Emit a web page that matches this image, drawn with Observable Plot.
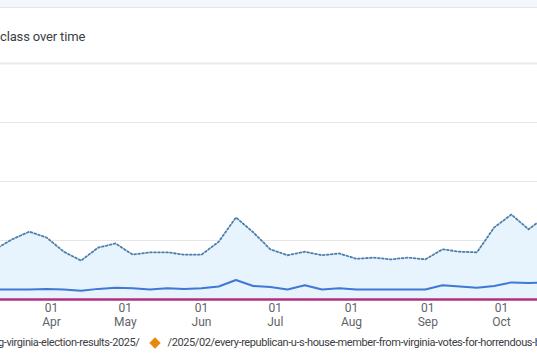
<!DOCTYPE html>
<html>
<head>
<meta charset="utf-8">
<script src="https://cdn.jsdelivr.net/npm/d3@7"></script>
<script src="https://cdn.jsdelivr.net/npm/@observablehq/plot@0.6"></script>
<style>
  html, body { margin: 0; padding: 0; background: #fff; width: 537px; height: 360px; overflow: hidden; font-family: Roboto, "Noto Sans", sans-serif; }
  #strip { position: absolute; left: 0; top: 0; width: 537px; height: 7px; background: #f3f7fb; border-bottom: 1px solid #e1e5ea; }
  #title { position: absolute; left: 0; top: 29px; font-size: 13px; letter-spacing: -0.15px; color: #3c4043; white-space: nowrap; }
  #chart { position: absolute; left: 0; top: 50px; width: 537px; overflow: hidden; }
  #legend { position: absolute; left: -2px; top: 336px; font-size: 11px; letter-spacing: -0.4px; color: #3c4043; white-space: nowrap; display: flex; align-items: center; }
  #legend .dia { display: inline-block; width: 8px; height: 8px; background: #e8890c; transform: rotate(45deg); margin: 0 9px 0 11px; }
</style>
</head>
<body>
<div id="strip"></div>
<div id="title">class over time</div>
<div id="chart"></div>
<div id="legend"><span id="lg1"></span><span class="dia"></span><span id="lg2"></span></div>
<script>
// ---- data ----
const weeks = ["2025-03-09","2025-03-16","2025-03-23","2025-03-30","2025-04-06","2025-04-13","2025-04-20","2025-04-27",
  "2025-05-04","2025-05-11","2025-05-18","2025-05-25","2025-06-01","2025-06-08","2025-06-15","2025-06-22","2025-06-29",
  "2025-07-06","2025-07-13","2025-07-20","2025-07-27","2025-08-03","2025-08-10","2025-08-17","2025-08-24","2025-08-31",
  "2025-09-07","2025-09-14","2025-09-21","2025-09-28","2025-10-05","2025-10-12","2025-10-19"];
const totalSeries = [8.5,10.2,11.5,10.5,8.1,6.6,8.8,9.5,7.6,8.0,8.0,7.6,7.6,9.8,13.9,11.4,8.5,7.5,8.1,7.5,7.8,6.9,7.1,6.8,7.1,6.8,8.5,8.1,8.0,12.2,14.4,11.9,14.1];
const pageA = [1.7,1.7,1.7,1.8,1.7,1.5,1.8,2.0,1.9,1.7,1.9,1.8,1.9,2.2,3.3,2.3,2.1,1.7,2.4,1.7,1.9,1.7,1.7,1.7,1.7,1.7,2.4,2.2,2.0,2.3,2.9,2.8,2.9];
const pageB = [0,0,0,0,0,0,0,0,0,0,0,0,0,0,0,0,0,0,0,0,0,0,0,0,0,0,0,0,0,0,0,0,0];
const gridValues = [10, 20, 30, 40];
const tickDates = ["2025-04-01","2025-05-01","2025-06-01","2025-07-01","2025-08-01","2025-09-01","2025-10-01"];
const tickDay = ["01","01","01","01","01","01","01"];
const tickMonth = ["Apr","May","Jun","Jul","Aug","Sep","Oct"];
const legendLabels = ["g-virginia-election-results-2025/", "/2025/02/every-republican-u-s-house-member-from-virginia-votes-for-horrendous-budget-bill/"];

// ---- build ----
const parse = s => new Date(s + "T00:00:00Z");
const rows = weeks.map((w, i) => ({date: parse(w), total: totalSeries[i], a: pageA[i], b: pageB[i]}));
const ticks = tickDates.map((t, i) => ({date: parse(t), day: tickDay[i], month: tickMonth[i]}));

const chart = Plot.plot({
  width: 537,
  height: 285,
  marginLeft: 0,
  marginRight: 0,
  marginTop: 13,
  marginBottom: 36,
  style: {fontFamily: "Roboto, sans-serif", background: "transparent", overflow: "hidden"},
  x: {type: "utc", domain: [new Date(Date.UTC(2025,2,11,6)), new Date(Date.UTC(2025,9,15,15))], axis: null},
  y: {domain: [0, 40], axis: null},
  marks: [
    Plot.ruleY(gridValues.slice(0, 3), {stroke: "#e6e6e6", strokeWidth: 1}),
    Plot.ruleY(gridValues.slice(3), {stroke: "#ebebeb", strokeWidth: 2}),
    Plot.areaY(rows, {x: "date", y: "total", fill: "#e7f3fd"}),
    Plot.lineY(rows, {x: "date", y: "total", stroke: "#4e7fab", strokeWidth: 1.8, strokeDasharray: "1.8,2.2"}),
    Plot.lineY(rows, {x: "date", y: "a", stroke: "#3f78d6", strokeWidth: 2}),
    Plot.lineY(rows, {x: "date", y: "b", stroke: "#b0307f", strokeWidth: 2.5}),
    Plot.text(ticks, {x: "date", y: 0, text: "day", dy: 9, fontSize: 12, fill: "#5f6368"}),
    Plot.text(ticks, {x: "date", y: 0, text: "month", dy: 23, fontSize: 12, fill: "#5f6368"})
  ]
});
document.getElementById("chart").appendChild(chart);
document.getElementById("lg1").textContent = legendLabels[0];
document.getElementById("lg2").textContent = legendLabels[1];
</script>
</body>
</html>
